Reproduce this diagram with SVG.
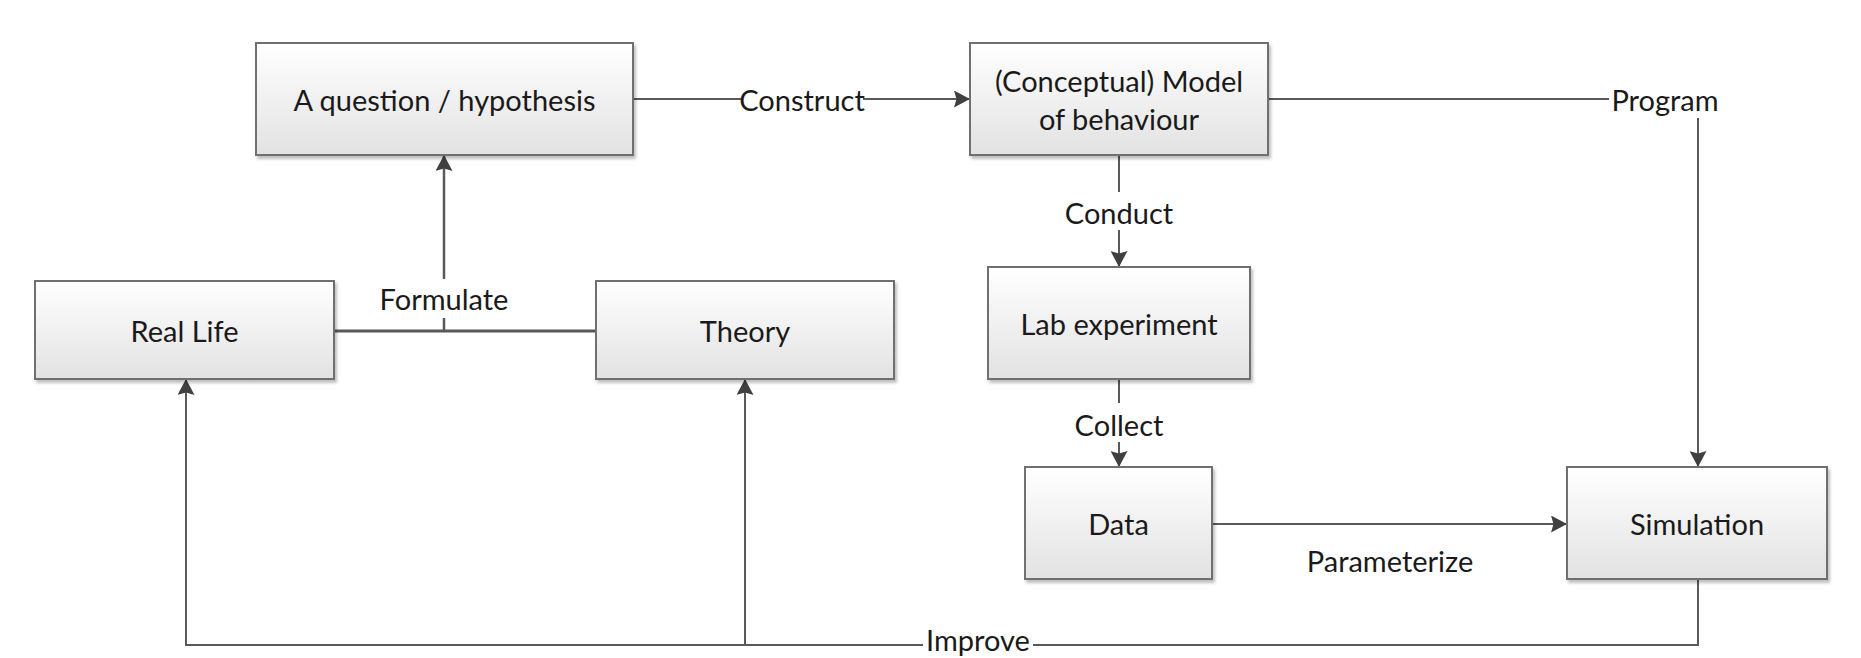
<svg xmlns="http://www.w3.org/2000/svg" width="1861" height="658" viewBox="0 0 1861 658">
<defs>
<linearGradient id="boxfill" x1="0" y1="0" x2="0" y2="1">
<stop offset="0" stop-color="#ffffff"/>
<stop offset="1" stop-color="#e2e2e2"/>
</linearGradient>
<filter id="shadow" x="-5%" y="-5%" width="115%" height="125%">
<feDropShadow dx="2" dy="3" stdDeviation="1.5" flood-color="#000000" flood-opacity="0.25"/>
</filter>
<marker id="arr" viewBox="0 0 16 17" refX="16" refY="8.5" markerWidth="16" markerHeight="17" orient="auto" markerUnits="userSpaceOnUse">
<path d="M0,0 L16,8.5 L0,17 L2.5,8.5 z" fill="#404040"/>
</marker>
</defs>
<style>
.box{fill:url(#boxfill);stroke:#707070;stroke-width:2;filter:url(#shadow)}
.t{font-family:Lato,"Noto Sans",sans-serif;font-size:29px;fill:#1a1a1a;text-anchor:middle;dominant-baseline:central}
.c{fill:none;stroke:#595959;stroke-width:2}
.ca{fill:none;stroke:#595959;stroke-width:2;marker-end:url(#arr)}
</style>
<rect width="1861" height="658" fill="#ffffff"/>
<g id="connectors">
<path class="c" d="M334,331 H596" style="stroke-width:3"/>
<path class="c" d="M444,331 V318" style="stroke-width:2.5"/>
<path class="ca" d="M444,279 V155" style="stroke-width:2.5"/>
<path class="c" d="M633,99 H741"/>
<path class="ca" d="M863,99 H970"/>
<path class="c" d="M1268,99 H1609"/>
<path class="ca" d="M1698,118 V467"/>
<path class="c" d="M1119,155 V192"/>
<path class="ca" d="M1119,230 V267"/>
<path class="c" d="M1119,379 V403"/>
<path class="ca" d="M1119,442 V467"/>
<path class="ca" d="M1212,524 H1567"/>
<path class="c" d="M1698,579 V645 H1033"/>
<path class="ca" d="M923,645 H186 V379"/>
<path class="ca" d="M745,645 V379"/>
<text class="t" x="444" y="298">Formulate</text>
<text class="t" x="802" y="99">Construct</text>
<text class="t" x="1665" y="99">Program</text>
<text class="t" x="1119" y="212">Conduct</text>
<text class="t" x="1119" y="424">Collect</text>
<text class="t" x="1390" y="560">Parameterize</text>
<text class="t" x="978" y="639">Improve</text>
</g>
<g id="question">
<rect class="box" x="256" y="43" width="377" height="112"/>
<text class="t" x="444.5" y="99">A question / hypothesis</text>
</g>
<g id="model">
<rect class="box" x="970" y="43" width="298" height="112"/>
<text class="t" x="1119" y="80">(Conceptual) Model</text>
<text class="t" x="1119" y="118">of behaviour</text>
</g>
<g id="reallife">
<rect class="box" x="35" y="281" width="299" height="98"/>
<text class="t" x="184.5" y="330">Real Life</text>
</g>
<g id="theory">
<rect class="box" x="596" y="281" width="298" height="98"/>
<text class="t" x="745" y="330">Theory</text>
</g>
<g id="lab">
<rect class="box" x="988" y="267" width="262" height="112"/>
<text class="t" x="1119" y="323">Lab experiment</text>
</g>
<g id="data">
<rect class="box" x="1025" y="467" width="187" height="112"/>
<text class="t" x="1118.5" y="523">Data</text>
</g>
<g id="simulation">
<rect class="box" x="1567" y="467" width="260" height="112"/>
<text class="t" x="1697" y="523">Simulation</text>
</g>
</svg>
